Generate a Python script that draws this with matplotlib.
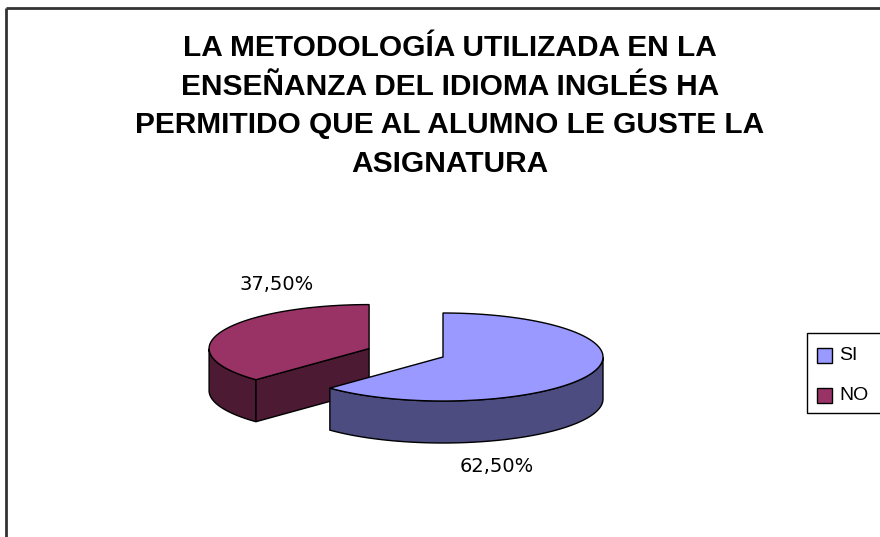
import numpy as np
import matplotlib
matplotlib.use('Agg')
from matplotlib import pyplot as plt
from matplotlib.patches import Polygon, Rectangle

# data
labels = ['SI', 'NO']
values = [62.5, 37.5]
pct_text = ['62,50%', '37,50%']
top_colors = ['#9999FF', '#993366']
side_colors = ['#4C4C80', '#4D1A33']
explode = [0.0, 0.5]
title = ('LA METODOLOGÍA UTILIZADA EN LA\nENSEÑANZA DEL IDIOMA INGLÉS HA\n'
         'PERMITIDO QUE AL ALUMNO LE GUSTE LA\nASIGNATURA')

fig = plt.figure(figsize=(8.8, 5.37), dpi=100)
ax = fig.add_axes([0, 0, 1, 1])
ax.set_xlim(0, 880)
ax.set_ylim(537, 0)
ax.axis('off')

# outer chart border (cropped on the right / bottom)
ax.plot([6, 6], [537, 8], color='#333333', lw=2, solid_capstyle='butt')
ax.plot([6, 880], [8, 8], color='#333333', lw=2, solid_capstyle='butt')

ax.text(450, 106, title, ha='center', va='center', fontsize=21.5,
        fontweight='bold', family='Liberation Sans', linespacing=1.48)

# pseudo 3D pie
cx, cy = 443, 357
A, B, D = 160, 44, 42


def rim(x0, y0, t, dz=0):
    return x0 + A * np.cos(t), y0 - B * np.sin(t) + dz


order = [1, 0]  # back slice first
starts = 90 - np.concatenate([[0], np.cumsum(values)[:-1]]) * 3.6
ends = starts - np.array(values) * 3.6
for i in order:
    t_hi, t_lo = np.radians(starts[i]), np.radians(ends[i])
    mid = (t_hi + t_lo) / 2
    x0 = cx + explode[i] * A * np.cos(mid)
    y0 = cy - explode[i] * B * np.sin(mid)
    # outer wall, only front half
    ts = np.linspace(t_lo, t_hi, 300)
    vis = np.sin(ts) <= 0
    if vis.any():
        tv = ts[vis]
        xt, yt = rim(x0, y0, tv)
        xb, yb = rim(x0, y0, tv[::-1], D)
        ax.add_patch(Polygon(np.column_stack([np.r_[xt, xb], np.r_[yt, yb]]),
                             fc=side_colors[i], ec='black', lw=1))
    # radial faces that turn towards the viewer
    for t, sign in [(t_lo, -1), (t_hi, 1)]:
        if sign * np.cos(t) < -1e-6:
            xr, yr = rim(x0, y0, t)
            quad = [[x0, y0], [xr, yr], [xr, yr + D], [x0, y0 + D]]
            ax.add_patch(Polygon(quad, fc=side_colors[i], ec='black', lw=1))
    # top face
    xt, yt = rim(x0, y0, ts)
    ax.add_patch(Polygon(np.column_stack([np.r_[x0, xt], np.r_[y0, yt]]),
                         fc=top_colors[i], ec='black', lw=1))

# data labels
ax.text(497, 466, pct_text[0], ha='center', va='center', fontsize=14,
        family='DejaVu Sans')
ax.text(277, 285, pct_text[1], ha='center', va='center', fontsize=14,
        family='DejaVu Sans')

# legend box
ax.add_patch(Rectangle((807, 333), 80, 80, fc='white', ec='black', lw=1,
                       clip_on=False))
for k, lab in enumerate(labels):
    y = 355 + k * 40
    ax.add_patch(Rectangle((817, y - 7), 15, 15, fc=top_colors[k], ec='black',
                           lw=1))
    ax.text(839, y, lab, ha='left', va='center', fontsize=14,
            family='Liberation Sans')

fig.savefig('out.png', dpi=100)
